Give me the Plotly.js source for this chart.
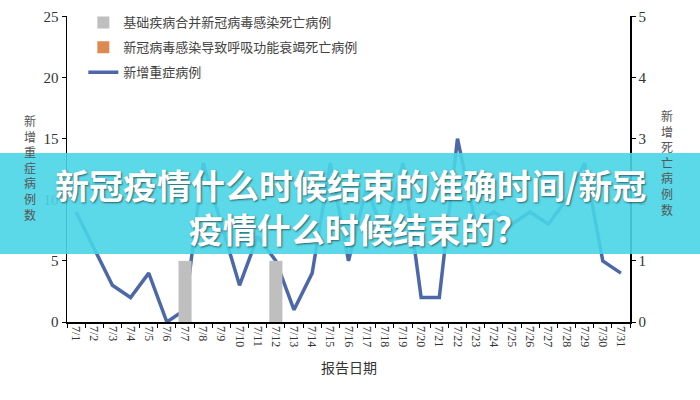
<!DOCTYPE html>
<html lang="zh">
  <head>
    <meta charset="UTF-8" />
    <title>新增重症病例</title>
    <script src="https://cdn.plot.ly/plotly-3.0.1.min.js"></script>
    <style>
      * {
        margin: 0;
        padding: 0;
      }
      html,
      body {
        width: 700px;
        height: 400px;
        background: #ffffff;
      }
      #chart {
        width: 700px;
        height: 400px;
      }
    </style>
  </head>
  <body>
    <div id="chart"></div>

    <script>
      // report dates
      const dates = [
        "7/1", "7/2", "7/3", "7/4", "7/5", "7/6", "7/7", "7/8", "7/9", "7/10",
        "7/11", "7/12", "7/13", "7/14", "7/15", "7/16", "7/17", "7/18", "7/19",
        "7/20", "7/21", "7/22", "7/23", "7/24", "7/25", "7/26", "7/27", "7/28",
        "7/29", "7/30", "7/31",
      ];
      // new severe cases (left axis)
      const severeCases = [
        9, 6, 3, 2, 4, 0, 1, 13, 8, 3, 7, 5, 1, 4, 13, 5, 11, 7, 13, 2, 2, 15,
        8, 9, 8, 9, 8, 10, 13, 5, 4,
      ];
      // deaths, underlying disease + covid (right axis)
      const deathsComorbid = [
        0, 0, 0, 0, 0, 0, 1, 0, 0, 0, 0, 1, 0, 0, 0, 0, 0, 0, 0, 0, 0, 0, 0, 0,
        0, 0, 0, 0, 0, 0, 0,
      ];
      // deaths, respiratory failure (right axis)
      const deathsRespiratory = [
        0, 0, 0, 0, 0, 0, 0, 0, 0, 0, 0, 0, 0, 0, 0, 0, 0, 0, 0, 0, 0, 0, 0, 0,
        0, 0, 0, 0, 0, 0, 0,
      ];
      const leftTicks = [0, 5, 10, 15, 20, 25];
      const rightTicks = [0, 1, 2, 3, 4, 5];

      const seriesNames = [
        "基础疾病合并新冠病毒感染死亡病例",
        "新冠病毒感染导致呼吸功能衰竭死亡病例",
        "新增重症病例",
      ];

      const serif = "Liberation Serif, Noto Sans CJK SC, serif";
      const cjk = "Noto Sans CJK SC, sans-serif";

      const traces = [
        {
          type: "bar",
          name: seriesNames[0],
          x: dates,
          y: deathsComorbid,
          yaxis: "y2",
          width: 0.72,
          marker: { color: "#bfbfbf" },
          legendgroup: "a",
        },
        {
          type: "bar",
          name: seriesNames[1],
          x: dates,
          y: deathsRespiratory,
          yaxis: "y2",
          width: 0.72,
          marker: { color: "#dd8a52" },
          legendgroup: "b",
        },
        {
          type: "scatter",
          mode: "lines",
          name: seriesNames[2],
          x: dates,
          y: severeCases,
          line: { color: "#4d68a8", width: 3.5 },
          legendgroup: "c",
        },
      ];

      // shared axis look
      const axisBase = {
        ticks: "outside",
        ticklen: 4,
        tickcolor: "#000000",
        showline: true,
        linecolor: "#000000",
        linewidth: 1.5,
        showgrid: false,
        zeroline: false,
      };

      const layout = {
        width: 700,
        height: 400,
        margin: { l: 67, r: 70, t: 7, b: 78 },
        paper_bgcolor: "#ffffff",
        plot_bgcolor: "#ffffff",
        font: { family: serif, color: "#333333" },
        barmode: "overlay",
        showlegend: true,
        legend: {
          x: 0.029,
          y: 1.028,
          xanchor: "left",
          yanchor: "top",
          bgcolor: "rgba(0,0,0,0)",
          font: { family: cjk, size: 13, color: "#444444" },
          tracegroupgap: 5,
          traceorder: "grouped",
        },
        xaxis: Object.assign({}, axisBase, {
          type: "category",
          tickson: "boundaries",
          tickangle: 90,
          tickfont: { family: serif, size: 12, color: "#333333" },
        }),
        yaxis: Object.assign({}, axisBase, {
          range: [0, 25.03],
          tickmode: "array",
          tickvals: leftTicks,
          tickfont: { family: serif, size: 15, color: "#333333" },
        }),
        yaxis2: Object.assign({}, axisBase, {
          overlaying: "y",
          side: "right",
          range: [0, 5.006],
          tickmode: "array",
          tickvals: rightTicks,
          tickfont: { family: serif, size: 15, color: "#333333" },
        }),
        shapes: [
          {
            type: "rect",
            xref: "paper",
            yref: "paper",
            x0: -0.125,
            x1: 1.13,
            y0: 0.222,
            y1: 0.552,
            line: { width: 0 },
            fillcolor: "rgba(73,213,229,0.9)",
            layer: "above",
          },
        ],
        annotations: [
          {
            xref: "paper",
            yref: "paper",
            x: -0.08,
            y: 0.505,
            yanchor: "middle",
            showarrow: false,
            text: "新<br>增<br>重<br>症<br>病<br>例<br>数",
            font: { family: cjk, size: 12, color: "#555555" },
          },
          {
            xref: "paper",
            yref: "paper",
            x: 1.08,
            y: 0.52,
            yanchor: "middle",
            showarrow: false,
            text: "新<br>增<br>死<br>亡<br>病<br>例<br>数",
            font: { family: cjk, size: 12, color: "#555555" },
          },
          {
            xref: "paper",
            yref: "paper",
            x: 0.5,
            y: -0.146,
            yanchor: "middle",
            showarrow: false,
            text: "报告日期",
            font: { family: cjk, size: 14, color: "#333333" },
          },
          {
            xref: "paper",
            yref: "paper",
            x: 0.503,
            y: 0.379,
            yanchor: "middle",
            showarrow: false,
            text: "新冠疫情什么时候结束的准确时间/新冠<br>疫情什么时候结束的?",
            font: {
              family: cjk,
              size: 34,
              weight: 700,
              color: "#ffffff",
              shadow: "1px 1px 2px rgba(0,0,0,0.55)",
            },
          },
        ],
      };

      Plotly.newPlot("chart", traces, layout, { displayModeBar: false, staticPlot: true });
    </script>
  </body>
</html>
